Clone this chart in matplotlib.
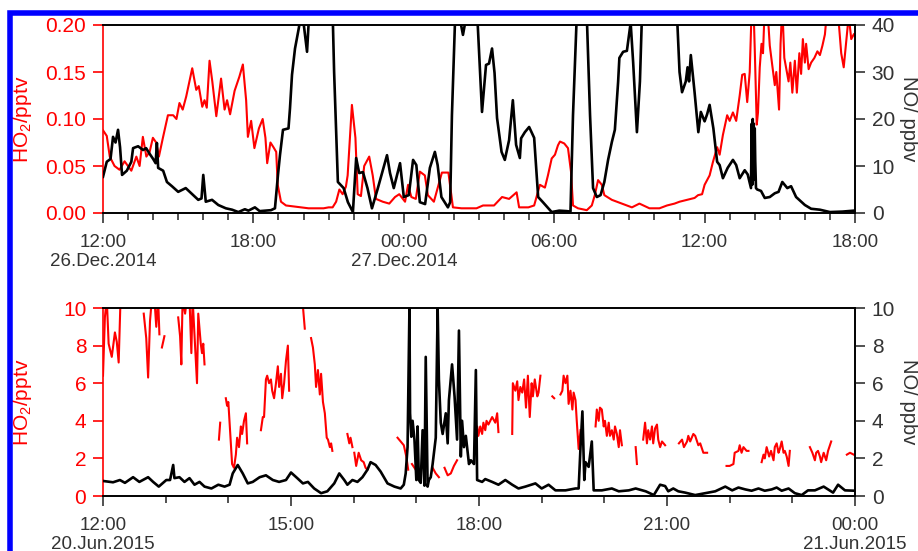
import numpy as np
import matplotlib
matplotlib.use('Agg')
import matplotlib.pyplot as plt
from matplotlib.patches import Rectangle

plt.rcParams['font.family'] = ['Liberation Sans', 'DejaVu Sans']
plt.rcParams['mathtext.default'] = 'regular'

nan = np.nan

# ---- top panel: 26-27 Dec 2014, hours after 12:00 on 26 Dec ----
ho2_dec_t = [0.00, 0.15, 0.27, 0.46, 0.66, 0.86, 1.13, 1.33, 1.46, 1.59, 1.73, 1.86, 1.99, 2.12,
             2.23, 2.39, 2.59, 2.80, 2.93, 3.05, 3.18, 3.32, 3.45, 3.56, 3.72, 3.82, 3.96, 4.05,
             4.14, 4.25, 4.36, 4.52, 4.71, 4.85, 4.95, 5.07, 5.25, 5.44, 5.58, 5.71, 5.78, 5.91,
             6.04, 6.22, 6.37, 6.48, 6.55, 6.68, 6.80, 6.91, 6.97, 7.10, 7.30, 7.60, 7.90, 8.20,
             8.50, 8.80, 9.00, 9.16, 9.30, 9.43, 9.56, 9.69, 9.76, 9.93, 10.07, 10.16, 10.29,
             10.42, 10.62, 10.76, 10.89, 11.16, 11.42, 11.65, 11.82, 12.05, 12.17, 12.30, 12.48,
             12.64, 12.84, 12.96, 13.20, 13.52, 13.78, 13.96, 14.30, 14.90, 15.16, 15.60, 15.92,
             16.20, 16.50, 16.60, 16.97, 17.20, 17.43, 17.63, 17.75, 17.90, 18.03, 18.15, 18.23,
             18.40, 18.55, 18.67, 18.75, 18.95, 19.30, 19.50, 19.62, 19.75, 19.90, 20.00, 20.30,
             20.70, 21.10, 21.40, 21.80, 22.20, 22.50, 22.80, 23.00, 23.30, 23.60, 23.74, 23.90,
             24.00, 24.20, 24.33, 24.50, 24.60, 24.73, 24.90, 25.00, 25.13, 25.26, 25.40, 25.50,
             25.60, 25.70, 25.80, 25.88, 25.95, 26.00, 26.08, 26.13, 26.20, 26.27, 26.33, 26.40,
             26.50, 26.60, 26.80, 26.86, 26.97, 27.03, 27.10, 27.18, 27.35, 27.42, 27.50, 27.60,
             27.68, 27.78, 27.85, 27.92, 28.00, 28.05, 28.15, 28.25, 28.38, 28.50, 28.60, 28.70,
             28.80, 28.90, 29.30, 29.45, 29.55, 29.75, 29.85, 29.95]
ho2_dec = [0.088, 0.082, 0.060, 0.050, 0.046, 0.055, 0.045, 0.060, 0.050, 0.081, 0.060, 0.065,
           0.080, 0.075, 0.060, 0.080, 0.104, 0.104, 0.100, 0.117, 0.110, 0.124, 0.140, 0.154,
           0.131, 0.135, 0.113, 0.120, 0.112, 0.162, 0.140, 0.103, 0.143, 0.110, 0.120, 0.105,
           0.130, 0.145, 0.158, 0.120, 0.081, 0.098, 0.069, 0.090, 0.100, 0.080, 0.053, 0.075,
           0.070, 0.065, 0.030, 0.012, 0.008, 0.007, 0.006, 0.005, 0.005, 0.005, 0.006, 0.006,
           0.012, 0.025, 0.020, 0.028, 0.040, 0.115, 0.080, 0.020, 0.018, 0.050, 0.060, 0.040,
           0.015, 0.012, 0.010, 0.017, 0.020, 0.012, 0.030, 0.017, 0.015, 0.044, 0.040, 0.019,
           0.012, 0.043, 0.043, 0.006, 0.005, 0.005, 0.008, 0.008, 0.017, 0.015, 0.022, 0.006,
           0.006, 0.008, 0.030, 0.027, 0.040, 0.058, 0.062, 0.072, 0.076, 0.074, 0.069, 0.044,
           0.008, 0.005, 0.003, 0.008, 0.019, 0.035, 0.030, 0.019, 0.014, 0.010, 0.006, 0.010,
           0.005, 0.005, 0.008, 0.010, 0.012, 0.014, 0.016, 0.019, 0.020, 0.030, 0.040, 0.054,
           0.070, 0.062, 0.083, 0.104, 0.098, 0.107, 0.098, 0.125, 0.147, 0.148, 0.118, 0.150,
           0.220, 0.220, 0.175, 0.094, 0.107, 0.155, 0.180, 0.170, 0.220, 0.220, 0.178, 0.136,
           0.150, 0.110, 0.180, 0.220, 0.165, 0.140, 0.160, 0.128, 0.162, 0.128, 0.170, 0.148,
           0.185, 0.160, 0.180, 0.153, 0.160, 0.165, 0.172, 0.168, 0.178, 0.190, 0.220, 0.220,
           0.170, 0.155, 0.210, 0.185, 0.190]

no_dec_t = [0.00, 0.15, 0.30, 0.40, 0.50, 0.60, 0.68, 0.76, 0.95, 1.13, 1.20, 1.40, 1.60, 1.72,
            1.86, 2.00, 2.10, 2.15, 2.20, 2.40, 2.55, 2.75, 3.00, 3.30, 3.60, 3.80, 3.93, 4.00,
            4.10, 4.35, 4.60, 4.90, 5.15, 5.40, 5.66, 5.80, 6.06, 6.25, 6.46, 6.70, 6.86, 6.98,
            7.06, 7.18, 7.40, 7.46, 7.54, 7.66, 7.80, 7.90, 8.00, 8.14, 8.22, 8.40, 9.15, 9.22,
            9.37, 9.60, 9.77, 9.97, 10.10, 10.22, 10.37, 10.55, 10.73, 10.95, 11.33, 11.45, 11.60,
            11.85, 12.00, 12.20, 12.37, 12.50, 12.64, 12.85, 13.04, 13.24, 13.35, 13.50, 13.76,
            13.85, 13.92, 14.05, 14.25, 14.36, 14.50, 14.80, 14.95, 15.12, 15.28, 15.40, 15.52,
            15.62, 15.72, 15.90, 16.03, 16.20, 16.35, 16.48, 16.63, 16.68, 16.83, 17.00, 17.20,
            17.36, 17.55, 17.90, 18.20, 18.50, 18.65, 18.75, 18.90, 19.30, 19.43, 19.55, 19.70,
            19.85, 20.00, 20.15, 20.30, 20.42, 20.55, 20.60, 20.75, 20.90, 21.05, 21.15, 21.30,
            21.42, 21.50, 22.90, 23.00, 23.10, 23.25, 23.32, 23.38, 23.45, 23.60, 23.75, 23.85,
            24.00, 24.10, 24.20, 24.35, 24.50, 24.60, 24.73, 24.92, 25.13, 25.26, 25.40, 25.60,
            25.72, 25.85, 25.88, 25.90, 25.92, 25.94, 25.96, 25.98, 26.00, 26.02, 26.05, 26.10,
            26.25, 26.40, 26.60, 26.80, 26.95, 27.10, 27.30, 27.45, 27.65, 28.00, 28.25, 28.60,
            29.00, 29.50, 29.95]
no_dec = [7.7, 10.9, 11.5, 16.2, 15.0, 17.7, 14.0, 8.1, 9.0, 10.9, 13.8, 14.2, 13.4, 13.8,
          12.6, 11.5, 10.6, 14.9, 9.6, 9.0, 6.6, 5.7, 4.5, 5.3, 3.8, 2.8, 3.1, 8.1,
          2.4, 2.8, 1.7, 1.0, 0.7, 0.2, 0.8, 0.5, 1.2, 0.4, 0.5, 0.6, 1.0, 8.1,
          12.3, 17.7, 18.0, 22.3, 29.4, 35.0, 39.0, 42.0, 40.5, 34.3, 42.0, 45.0, 45.0, 30.0,
          6.6, 5.3, 2.3, 0.2, 11.7, 8.5, 8.7, 5.3, 1.0, 5.0, 12.3, 8.5, 5.3,
          10.6, 3.4, 3.8, 11.3, 10.2, 2.3, 1.9, 9.6, 13.0, 10.2, 3.4, 1.2,
          2.3, 20.8, 42.0, 41.0, 37.9, 42.0, 41.0, 40.0, 21.5, 31.5, 31.8, 35.0,
          29.8, 20.2, 13.0, 11.3, 15.5, 24.0, 14.5, 11.7, 15.9, 17.2, 18.3, 16.0,
          3.4, 2.3, 0.2, 0.5, 0.4, 0.3, 20.8, 42.0, 42.0, 20.8, 5.3, 3.4,
          3.8, 6.6, 11.3, 15.1, 17.7, 27.9, 33.0, 34.3, 34.5, 40.5, 32.0, 17.2,
          28.0, 42.0, 42.0, 30.0, 25.7, 28.0, 31.0, 28.0, 33.6, 25.7, 17.2, 21.5,
          19.5, 21.0, 23.0, 18.0, 10.9, 10.2, 7.4, 9.6, 11.3, 10.2, 7.4, 9.1,
          8.2, 5.3, 19.0, 6.0, 20.0, 7.0, 19.0, 8.0, 18.0, 11.0, 5.3, 5.0,
          4.7, 3.2, 3.4, 4.2, 4.5, 6.6, 5.3, 5.7, 3.4, 1.7, 0.9, 0.7,
          0.2, 0.3, 0.5]

# ---- bottom panel: 20-21 Jun 2015, hours after 12:00 on 20 Jun (nan = data gap) ----
ho2_jun_t = [0.00, 0.03, 0.06, 0.09, 0.14, 0.19, 0.22, 0.25, 0.28, 0.30, nan,
             0.65, 0.69, 0.72, 0.75, 0.78, 0.82, 0.85, 0.88, 0.90, nan,
             0.94, 0.98, nan,
             1.20, 1.23, 1.25, 1.27, 1.31, 1.34, 1.38, 1.41, 1.43, 1.50, 1.52, 1.56, 1.58, 1.60, 1.62, nan,
             1.85, 1.87, nan,
             1.96, 1.98, 2.00, 2.03, 2.06, 2.09, 2.12, 2.14, 2.17, 2.20, 2.22, 2.25, 2.28, 2.30, nan,
             2.52, 2.55, 2.57, 2.60, 2.62, 2.65, 2.68, 2.70, 2.73, 2.76, 2.79, 2.81, 2.84, 2.86, 2.89,
             2.92, 2.95, 2.97, nan,
             3.18, 3.22, nan,
             3.32, 3.35, 3.38, 3.40, 3.43, 3.46, 3.48, 3.51, 3.54, 3.57, 3.59, 3.62, 3.64, 3.66, nan,
             3.90, 3.93, 3.95, 3.98, nan,
             4.01, 4.04, 4.08, 4.12, 4.16, 4.19, 4.22, nan,
             4.70, 4.75, 4.80, 4.84, 4.87, nan,
             4.93, 4.97, 5.01, 5.04, nan,
             5.26, 5.31, 5.36, nan,
             5.45, 5.50, 5.55, 5.60, 5.65, nan,
             5.95, 5.97, 5.99, 6.02, 6.05, 6.07, 6.10, 6.12, 6.15, 6.21, 6.26, 6.29, 6.31, nan,
             6.53, 6.54, 6.58, 6.61, 6.63, 6.66, 6.69, 6.72, 6.75, 6.78, 6.81, 6.84, 6.86, 6.89,
             6.93, 6.95, 6.98, nan,
             7.17, 7.20, nan,
             7.30, 7.33, 7.35, 7.38, 7.41, 7.43, 7.46, 7.49, 7.51, 7.54, 7.56, 7.59, 7.62, nan,
             7.86, 7.88, 7.91, 7.93, 7.96, 7.99, 8.01, 8.04, 8.07, 8.09, 8.12, 8.15, 8.17, 8.20,
             8.23, 8.25, 8.28, nan,
             8.50, 8.52, nan,
             8.62, 8.65, 8.68, 8.70, 8.73, 8.76, 8.78, 8.81, 8.84, 8.86, 8.89, 8.92, 8.97, nan,
             9.19, 9.24, 9.27, 9.32, 9.34, 9.37, 9.42, 9.45, 9.50, 9.53, 9.58, 9.64, nan,
             9.95, 10.00, 10.06, 10.08, 10.14, 10.16, 10.19, 10.22, 10.27, 10.30, nan,
             10.51, 10.54, 10.56, 10.59, 10.63, 10.66, 10.70, 10.72, 10.75, 10.78, 10.80, 10.83,
             10.86, 10.88, 10.91, 10.94, 10.96, nan,
             11.28, 11.32, 11.36, 11.38, 11.41, 11.44, 11.46, 11.50, 11.54, 11.57, 11.62, nan,
             11.87, 11.92, 11.98]
ho2_jun = [6.4, 9.5, 10.5, 8.1, 7.4, 8.7, 8.2, 7.1, 10.5, 10.5, nan,
           9.7, 8.4, 6.3, 9.3, 10.5, 10.5, 9.0, 10.5, 8.6, nan,
           7.9, 8.5, nan,
           9.5, 8.5, 7.0, 10.5, 9.7, 10.5, 10.5, 7.6, 10.5, 6.0, 9.7, 8.1, 7.6, 8.1, 7.0, nan,
           3.0, 3.9, nan,
           5.2, 4.8, 5.0, 3.3, 1.7, 1.5, 2.2, 3.1, 2.6, 3.7, 3.3, 4.0, 4.4, 2.8, nan,
           3.5, 4.2, 4.2, 6.2, 6.4, 6.0, 6.2, 5.6, 5.2, 6.0, 6.9, 5.8, 6.5, 5.2, 6.0,
           7.2, 8.0, 5.6, nan,
           10.5, 8.9, nan,
           8.4, 7.9, 7.0, 5.8, 6.7, 5.4, 6.5, 5.0, 4.4, 3.1, 3.0, 2.6, 2.8, 2.4, nan,
           3.3, 2.8, 3.1, 2.6, nan,
           2.3, 1.6, 2.3, 1.9, 1.8, 1.5, 1.4, nan,
           3.1, 2.9, 2.7, 2.1, 1.4, nan,
           1.7, 1.5, 1.3, 1.2, nan,
           1.5, 1.2, 1.0, nan,
           1.5, 1.1, 1.2, 1.6, 1.9, nan,
           2.6, 3.7, 3.2, 3.7, 3.3, 3.9, 3.5, 4.0, 3.8, 4.2, 3.9, 4.4, 3.4, nan,
           3.3, 6.0, 5.6, 6.1, 5.1, 5.8, 5.5, 6.2, 4.7, 6.4, 4.2, 6.0, 5.3, 6.2,
           5.3, 5.5, 6.4, nan,
           5.3, 5.2, nan,
           5.4, 5.6, 6.4, 6.0, 6.4, 4.9, 5.6, 4.6, 5.5, 5.1, 4.0, 2.5, 3.5, nan,
           3.7, 4.6, 4.0, 4.7, 4.6, 3.7, 4.0, 3.2, 3.9, 3.2, 3.5, 3.0, 3.7, 3.3,
           2.6, 3.5, 2.7, nan,
           2.6, 1.7, nan,
           3.0, 3.9, 2.8, 3.5, 3.0, 3.7, 2.8, 3.6, 3.8, 3.0, 2.6, 2.9, 2.7, nan,
           2.8, 3.0, 2.6, 2.9, 3.2, 2.9, 3.3, 3.2, 2.7, 2.8, 2.3, 2.3, nan,
           1.6, 1.6, 1.7, 2.3, 2.4, 2.7, 2.3, 2.6, 2.4, 2.4, nan,
           1.8, 2.2, 2.0, 2.6, 2.1, 2.4, 1.9, 2.6, 2.8, 2.3, 2.5, 2.9,
           2.3, 2.4, 2.1, 1.6, 2.4, nan,
           2.6, 2.3, 1.9, 2.3, 2.4, 2.1, 1.8, 2.3, 1.9, 2.4, 2.9, nan,
           2.2, 2.3, 2.2]

no_jun_t = [0.00, 0.16, 0.27, 0.35, 0.48, 0.58, 0.72, 0.80, 0.89, 1.01, 1.07, 1.12, 1.14, 1.22,
            1.30, 1.38, 1.46, 1.54, 1.62, 1.73, 1.84, 1.94, 2.02, 2.07, 2.15, 2.23, 2.31, 2.39,
            2.50, 2.60, 2.71, 2.81, 2.92, 3.00, 3.10, 3.19, 3.27, 3.37, 3.48, 3.58, 3.69, 3.77,
            3.85, 3.90, 3.98, 4.06, 4.14, 4.22, 4.27, 4.35, 4.43, 4.54, 4.65, 4.75, 4.80, 4.83,
            4.86, 4.89, 4.90, 4.92, 4.94, 4.97, 5.00, 5.02, 5.04, 5.07, 5.10, 5.13, 5.15, 5.18,
            5.20, 5.23, 5.26, 5.31, 5.34, 5.36, 5.39, 5.42, 5.47, 5.50, 5.52, 5.57, 5.61, 5.65,
            5.68, 5.71, 5.73, 5.76, 5.79, 5.84, 5.87, 5.92, 5.95, 5.97, 6.05, 6.10, 6.21, 6.31,
            6.42, 6.53, 6.63, 6.74, 6.90, 7.00, 7.11, 7.22, 7.38, 7.54, 7.59, 7.62, 7.65, 7.68,
            7.70, 7.75, 7.80, 7.83, 7.96, 8.12, 8.23, 8.39, 8.50, 8.66, 8.79, 8.89, 8.97, 9.02,
            9.10, 9.18, 9.29, 9.45, 9.61, 9.77, 9.93, 10.04, 10.14, 10.25, 10.35, 10.46, 10.56,
            10.67, 10.75, 10.83, 10.94, 11.04, 11.15, 11.25, 11.36, 11.50, 11.57, 11.65, 11.73,
            11.84, 12.00]
no_jun = [0.80, 0.73, 0.85, 0.70, 1.00, 0.75, 1.00, 0.75, 0.50, 0.85, 0.85, 1.65, 0.95, 1.00,
          0.75, 0.95, 0.60, 0.75, 0.50, 0.40, 0.60, 0.50, 0.60, 1.20, 1.65, 1.20, 0.67, 0.75,
          1.00, 1.10, 0.85, 0.75, 0.85, 1.25, 0.95, 0.67, 0.75, 0.40, 0.15, 0.25, 0.67, 1.20,
          0.85, 0.60, 0.85, 0.75, 1.00, 1.40, 1.80, 1.65, 1.30, 0.67, 0.50, 0.40, 0.60, 1.20,
          2.60, 10.0, 4.40, 3.15, 4.00, 3.00, 0.85, 3.70, 0.85, 0.70, 3.50, 0.55, 7.40, 0.50,
          0.85, 1.00, 1.70, 3.10, 10.0, 6.20, 3.90, 3.30, 4.40, 2.80, 5.10, 7.00, 5.30, 3.00,
          8.80, 2.10, 4.00, 2.60, 3.20, 1.70, 1.90, 1.70, 6.70, 0.85, 0.75, 0.90, 0.75, 0.60,
          0.85, 0.60, 0.40, 0.50, 0.67, 0.40, 0.60, 0.30, 0.30, 0.40, 0.40, 2.60, 4.50, 0.85,
          1.80, 1.55, 2.90, 0.30, 0.30, 0.40, 0.25, 0.30, 0.40, 0.25, 0.05, 0.60, 0.53, 0.25,
          0.40, 0.25, 0.18, 0.05, 0.15, 0.25, 0.50, 0.30, 0.45, 0.35, 0.28, 0.40, 0.28,
          0.35, 0.45, 0.28, 0.40, 0.15, 0.05, 0.30, 0.30, 0.50, 0.35, 0.18, 0.60,
          0.30, 0.28]

dec_ticks = [0, 6, 12, 18, 24, 30]
dec_labels = ['12:00\n26.Dec.2014', '18:00', '00:00\n27.Dec.2014', '06:00', '12:00', '18:00']
jun_ticks = [0, 3, 6, 9, 12]
jun_labels = ['12:00\n20.Jun.2015', '15:00', '18:00', '21:00', '00:00\n21.Jun.2015']

W, H = 918, 551
fig = plt.figure(figsize=(W / 100, H / 100), dpi=100)
grey = '#333333'


def make_panel(rect, xmax, xticks, xlabels, ho2_t, ho2, ho2_max, ho2_ticks, ho2_fmt,
               no_t, no, no_max, no_ticks):
    ax = fig.add_axes(rect)
    axr = ax.twinx()
    ax.plot(ho2_t, ho2, color='#ff0000', lw=1.5)
    axr.plot(no_t, no, color='black', lw=1.9)

    ax.set_xlim(0, xmax)
    ax.set_ylim(0, ho2_max)
    axr.set_ylim(0, no_max)
    ax.set_xticks(xticks)
    ax.set_xticklabels(xlabels)
    ax.set_xticks(np.arange(0, xmax + 1, 1), minor=True)
    ax.set_yticks(ho2_ticks)
    ax.set_yticklabels([ho2_fmt.format(v) for v in ho2_ticks])
    axr.set_yticks(no_ticks)

    for a in (ax, axr):
        for s in a.spines.values():
            s.set_linewidth(1.2)
    ax.spines['left'].set_color('red')
    axr.spines['left'].set_visible(False)

    ax.tick_params(axis='x', which='major', length=7, width=1.2, pad=8,
                   labelsize=13.5, colors=grey)
    ax.tick_params(axis='x', which='minor', length=5, width=1.2, colors=grey)
    ax.tick_params(axis='y', length=7, width=1.2, pad=5, labelsize=15,
                   colors='red')
    axr.tick_params(axis='y', length=7, width=1.2, pad=5, labelsize=15,
                    colors=grey)

    ax.set_ylabel('HO$_2$/pptv', color='red', fontsize=15)
    ax.yaxis.set_label_coords(-0.092, 0.5)
    axr.set_ylabel('NO/ ppbv', fontsize=14.5, color=grey, rotation=270,
                   va='bottom', ha='center', rotation_mode='anchor')
    axr.yaxis.set_label_coords(1.058, 0.5)
    return ax, axr


make_panel([103 / W, 1 - 213 / H, 752 / W, 188 / H], 30, dec_ticks, dec_labels,
           ho2_dec_t, ho2_dec, 0.20, [0, 0.05, 0.10, 0.15, 0.20], '{:.2f}',
           no_dec_t, no_dec, 40, [0, 10, 20, 30, 40])

make_panel([103 / W, 1 - 496 / H, 752 / W, 188 / H], 12, jun_ticks, jun_labels,
           ho2_jun_t, ho2_jun, 10, [0, 2, 4, 6, 8, 10], '{:.0f}',
           no_jun_t, no_jun, 10, [0, 2, 4, 6, 8, 10])

# blue frame round the figure (only left and top edges fall inside the picture)
fig.patches.append(Rectangle((9.5 / W, -0.1), 1.2, 1.1 - 12.5 / H, transform=fig.transFigure,
                             fill=False, edgecolor='#0000ff', lw=4, zorder=10))

fig.savefig('out.png', dpi=100)
